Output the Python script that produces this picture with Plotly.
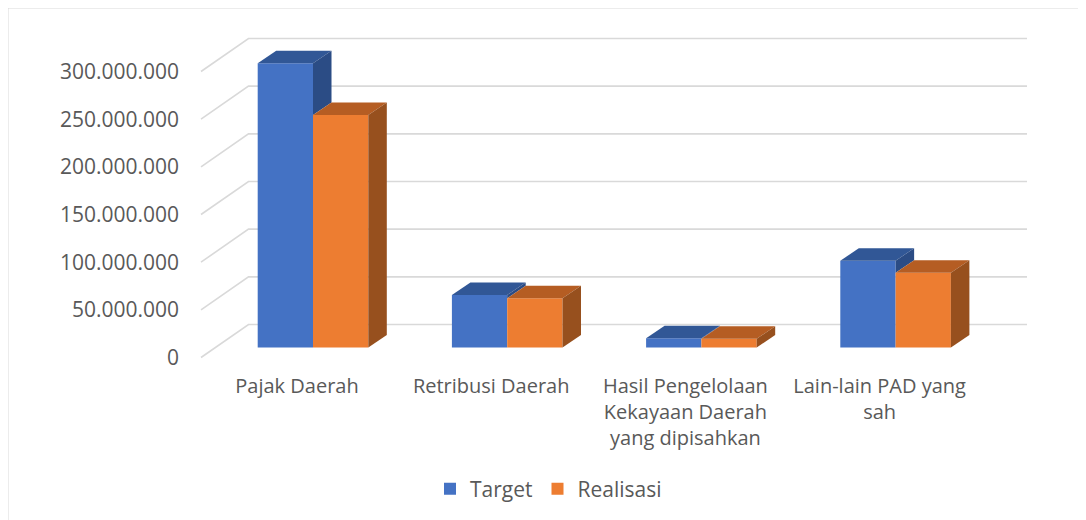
import plotly.graph_objects as go

# ---------------- data ----------------
categories = ["Pajak Daerah", "Retribusi Daerah",
              "Hasil Pengelolaan Kekayaan Daerah yang dipisahkan",
              "Lain-lain PAD yang sah"]
tick_labels = ["Pajak Daerah", "Retribusi Daerah",
               "Hasil Pengelolaan<br>Kekayaan Daerah<br>yang dipisahkan",
               "Lain-lain PAD yang<br>sah"]
target = [298_100_000, 55_100_000, 9_650_000, 91_000_000]
realisasi = [243_900_000, 51_600_000, 9_200_000, 78_500_000]
y_ticks = [0, 50_000_000, 100_000_000, 150_000_000, 200_000_000, 250_000_000, 300_000_000]

# ---------------- layout geometry (page pixels) ----------------
W, H = 1086, 520
PAGE_OFF = 8                       # default body margin of the html page
ML_P, MT_P = 190, 20               # plot area top-left on the page
PW, PH = 850, 350                  # plot area size
ML, MT = ML_P - PAGE_OFF, MT_P - PAGE_OFF
MR, MB = W - ML - PW, H - MT - PH

CAT_PX = 194.2          # pixels per category
CAT0_PX = 313.0         # page x of first category centre (bar plane)
BASE_PX = 347.5         # page y of value 0 on bar plane
K = 286.0 / 300e6       # pixels per value unit

x_range = [(ML_P - CAT0_PX) / CAT_PX, (ML_P + PW - CAT0_PX) / CAT_PX]
y_range = [-(MT_P + PH - BASE_PX) / K, (BASE_PX - MT_P) / K]

def dxu(px):  # pixel -> x data units
    return px / CAT_PX

def dyu(px):  # upward pixel -> y data units
    return px / K

def paper_x(px):
    return (px - ML_P) / PW

def paper_y(py):
    return (MT_P + PH - py) / PH

BAR_W = 55.3 / CAT_PX
DEPTH_X, DEPTH_Y = dxu(18.5), dyu(12.5)

# wall geometry relative to bar plane
FRONT_X = (201 - CAT0_PX) / CAT_PX
FRONT_DY = -dyu(10)
BACK_X = (248.5 - CAT0_PX) / CAT_PX
BACK_DY = dyu(23)
BACK_RIGHT_X = (1027 - CAT0_PX) / CAT_PX

LABEL_SHIFT_X = dxu(16)   # category labels sit on front plane
LABEL_SHIFT_Y = dyu(10)

BLUE, BLUE_TOP, BLUE_SIDE = "#4472C4", "#315796", "#2B4C85"
ORANGE, ORANGE_TOP, ORANGE_SIDE = "#ED7D31", "#B55D23", "#97501E"
GRID = "#D9D9D9"
TEXT = "#595959"
FONT = "Open Sans"

fig = go.Figure()

# front faces (bars)
fig.add_trace(go.Bar(x=list(range(len(categories))), y=target, name="Target",
                     width=BAR_W, offset=-BAR_W, marker=dict(color=BLUE, line=dict(width=0)),
                     hovertext=categories))
fig.add_trace(go.Bar(x=list(range(len(categories))), y=realisasi, name="Realisasi",
                     width=BAR_W, offset=0, marker=dict(color=ORANGE, line=dict(width=0)),
                     hovertext=categories))

def poly(xs, ys, color):
    fig.add_trace(go.Scatter(x=xs + [xs[0]], y=ys + [ys[0]], mode="lines", fill="toself",
                             fillcolor=color, line=dict(width=0, color=color),
                             showlegend=False, hoverinfo="skip"))

for i in range(len(categories)):
    hb, ho = target[i], realisasi[i]
    bl, br = i - BAR_W, i
    ol, orr = i, i + BAR_W
    # blue top
    poly([bl, br, br + DEPTH_X, bl + DEPTH_X], [hb, hb, hb + DEPTH_Y, hb + DEPTH_Y], BLUE_TOP)
    # blue side: only visible part above orange bar
    if hb > ho:
        poly([br, br, br + DEPTH_X, br + DEPTH_X], [ho, hb, hb + DEPTH_Y, ho + DEPTH_Y], BLUE_SIDE)
    # orange top
    poly([ol, orr, orr + DEPTH_X, ol + DEPTH_X], [ho, ho, ho + DEPTH_Y, ho + DEPTH_Y], ORANGE_TOP)
    # orange side
    poly([orr, orr, orr + DEPTH_X, orr + DEPTH_X], [0, ho, ho + DEPTH_Y, DEPTH_Y], ORANGE_SIDE)

# dummy trace to activate label axes
fig.add_trace(go.Scatter(x=[0], y=[0], xaxis="x2", yaxis="y2", mode="markers",
                         marker=dict(opacity=0), showlegend=False, hoverinfo="skip"))

# gridlines: side wall diagonals + back wall horizontals
shapes = []
for v in y_ticks:
    path = (f"M {FRONT_X},{v + FRONT_DY} L {BACK_X},{v + BACK_DY} "
            f"L {BACK_RIGHT_X},{v + BACK_DY}")
    shapes.append(dict(type="path", path=path, xref="x", yref="y", layer="below",
                       line=dict(color=GRID, width=1.6)))

# outer chart border (left + top visible)
shapes.append(dict(type="rect", xref="paper", yref="paper",
                   x0=paper_x(7.5), x1=paper_x(1120),
                   y0=paper_y(620), y1=paper_y(7.5),
                   line=dict(color=GRID, width=2), fillcolor="rgba(0,0,0,0)", layer="below"))

fig.update_layout(
    width=W, height=H,
    margin=dict(l=ML, r=MR, t=MT, b=MB),
    paper_bgcolor="white", plot_bgcolor="white",
    separators=",.",
    font=dict(family=FONT, size=20, color=TEXT),
    barmode="overlay",
    shapes=shapes,
    showlegend=True,
    legend=dict(orientation="h", x=paper_x(430), xanchor="left",
                y=paper_y(489), yanchor="middle",
                font=dict(family=FONT, size=21, color=TEXT), bgcolor="rgba(0,0,0,0)"),
    xaxis=dict(range=x_range, visible=False, fixedrange=True),
    yaxis=dict(range=y_range, visible=False, fixedrange=True),
    xaxis2=dict(range=[x_range[0] + LABEL_SHIFT_X, x_range[1] + LABEL_SHIFT_X],
                overlaying="x", anchor="y2", side="bottom",
                tickmode="array", tickvals=list(range(len(categories))), ticktext=tick_labels,
                showgrid=False, zeroline=False, showline=False, ticks="",
                ticklabelstandoff=2, tickfont=dict(family=FONT, size=20, color=TEXT),
                fixedrange=True),
    yaxis2=dict(range=[y_range[0] + LABEL_SHIFT_Y, y_range[1] + LABEL_SHIFT_Y],
                overlaying="y", anchor="x2", side="left",
                tickmode="array", tickvals=y_ticks, tickformat=",d",
                showgrid=False, zeroline=False, showline=False, ticks="",
                ticklabelstandoff=10, tickfont=dict(family=FONT, size=21, color=TEXT),
                fixedrange=True),
)

fig.write_html("out.html")
